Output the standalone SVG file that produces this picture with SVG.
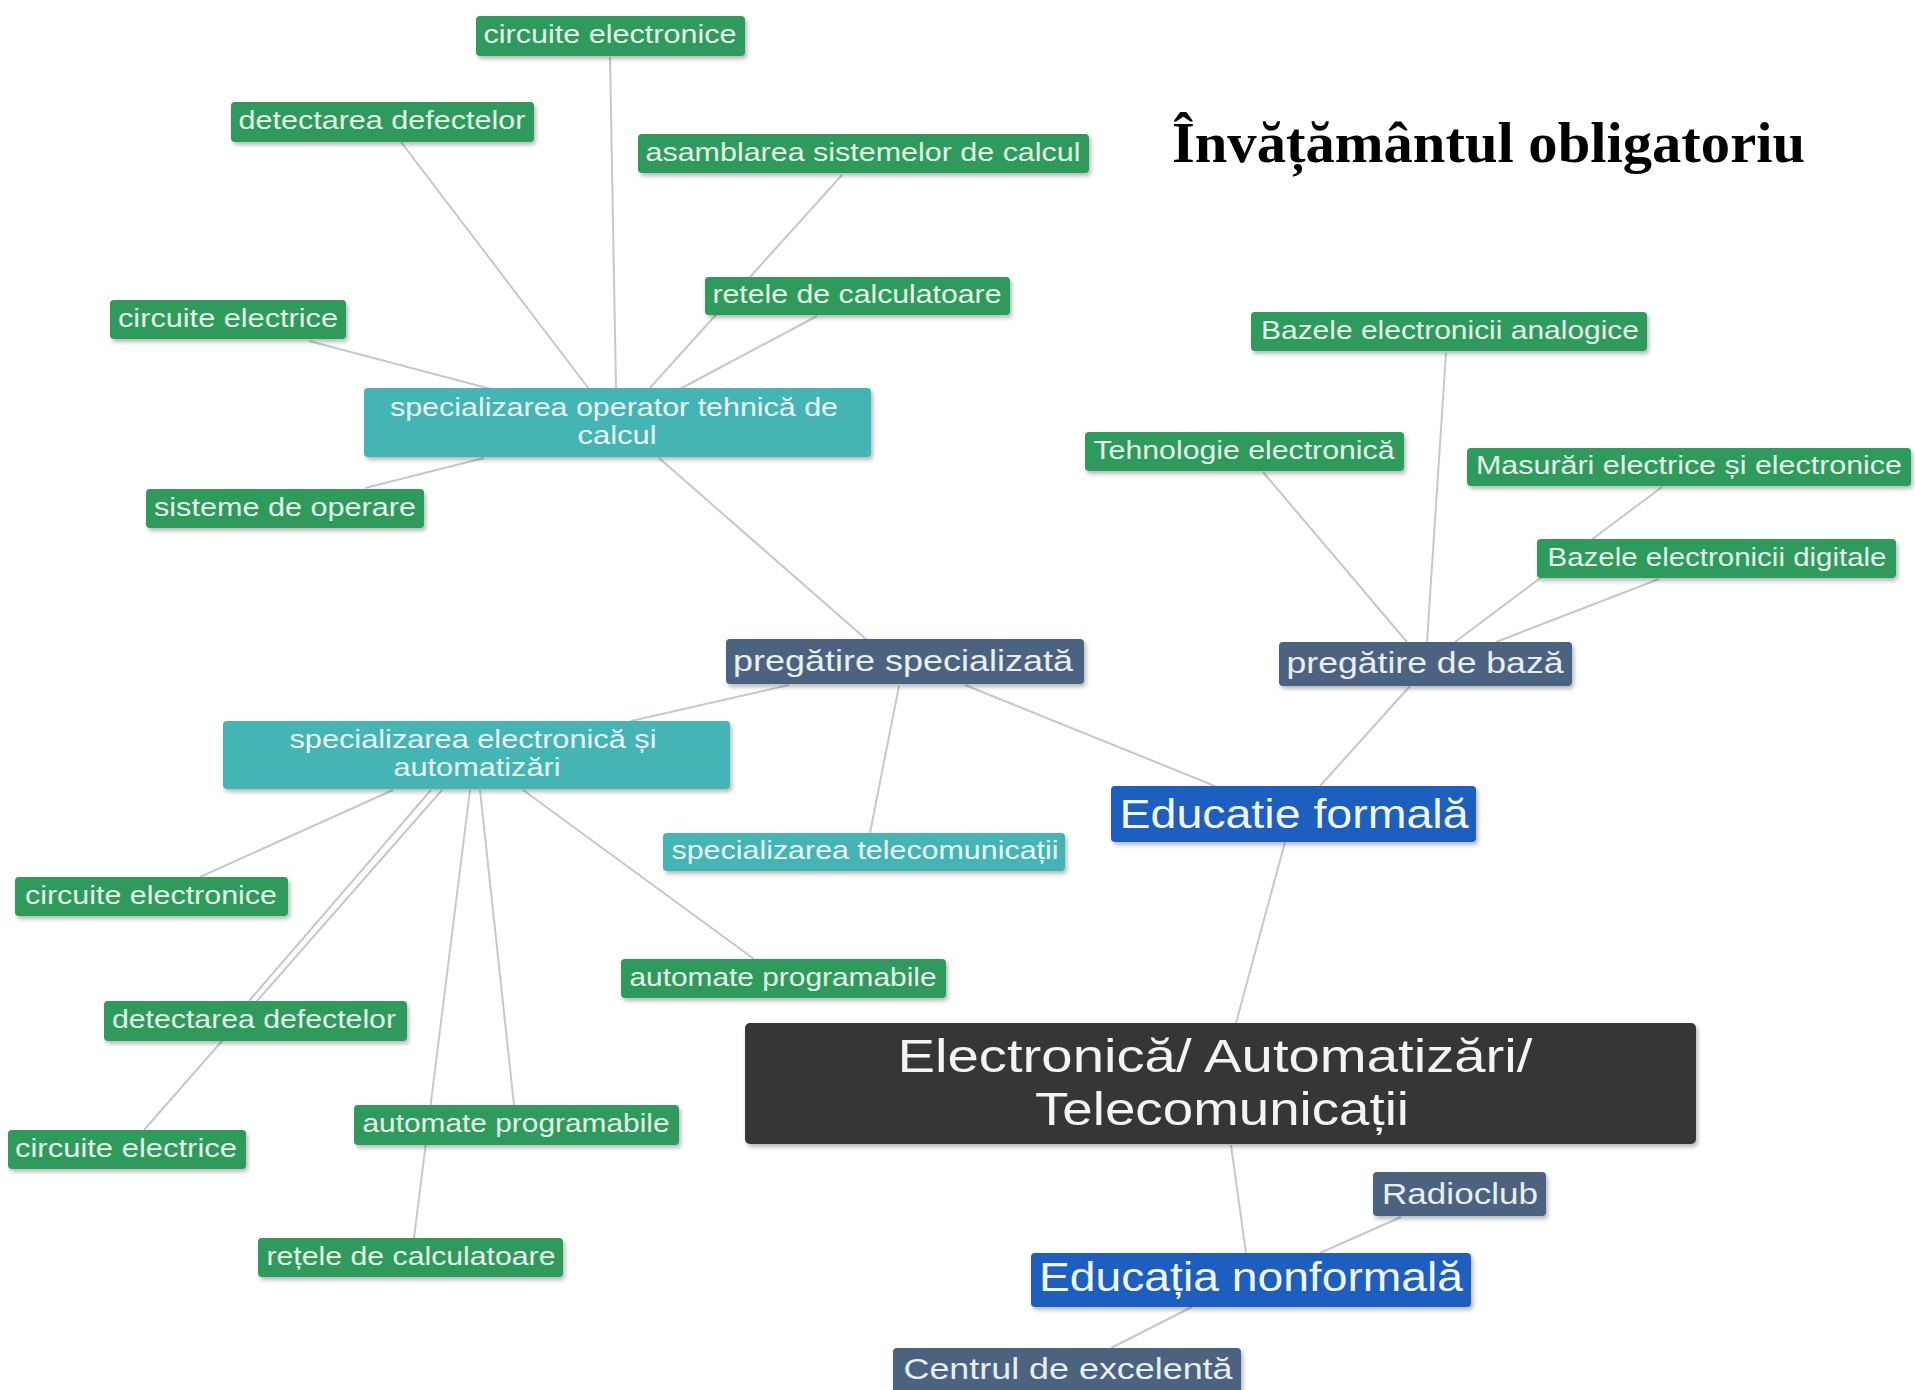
<svg xmlns="http://www.w3.org/2000/svg" width="1915" height="1390" viewBox="0 0 1915 1390">
<defs>
<filter id="sh" x="-10%" y="-20%" width="120%" height="160%">
<feDropShadow dx="2" dy="3" stdDeviation="2" flood-color="#000" flood-opacity="0.28"/>
</filter>
<style>
.n{filter:url(#sh)}
.g{fill:#2e9a5c}
.t{fill:#45b4b5}
.s{fill:#4b6480}
.b{fill:#1f5fbf}
.c{fill:#393535}
text{font-family:"Liberation Sans",Arial,sans-serif;text-anchor:middle}
.tg{font-size:25px;fill:#e4f4e8}
.tt{font-size:25px;fill:#eaf8f8}
.ts{font-size:29px;fill:#e9eef5}
.tb{font-size:40px;fill:#f2f6ff}
.tc{font-size:47px;fill:#f4f4f4}
.title{font-family:"Liberation Serif","Times New Roman",serif;font-weight:bold;font-size:58px;fill:#000;text-anchor:start}
.e{stroke:#c8c8c8;stroke-width:2;fill:none}
</style>
</defs>
<rect width="1915" height="1390" fill="#ffffff"/>
<g id="connectors">
<line class="e" x1="610" y1="57" x2="616" y2="389"/>
<line class="e" x1="401" y1="142" x2="589" y2="389"/>
<line class="e" x1="842" y1="175" x2="649" y2="389"/>
<line class="e" x1="817" y1="316" x2="680" y2="389"/>
<line class="e" x1="309" y1="341" x2="491" y2="389"/>
<line class="e" x1="365" y1="488" x2="484" y2="458"/>
<line class="e" x1="659" y1="458" x2="867" y2="640"/>
<line class="e" x1="1446" y1="353" x2="1427" y2="642"/>
<line class="e" x1="1263" y1="472" x2="1407" y2="642"/>
<line class="e" x1="1662" y1="487" x2="1455" y2="642"/>
<line class="e" x1="1659" y1="579" x2="1496" y2="642"/>
<line class="e" x1="1410" y1="686" x2="1320" y2="786"/>
<line class="e" x1="789" y1="685" x2="631" y2="721"/>
<line class="e" x1="899" y1="686" x2="870" y2="833"/>
<line class="e" x1="965" y1="685" x2="1215" y2="786"/>
<line class="e" x1="393" y1="790" x2="200" y2="877"/>
<line class="e" x1="442" y1="790" x2="144" y2="1130"/>
<line class="e" x1="431" y1="790" x2="249" y2="1001"/>
<line class="e" x1="470" y1="790" x2="414" y2="1238"/>
<line class="e" x1="480" y1="790" x2="514" y2="1105"/>
<line class="e" x1="523" y1="790" x2="754" y2="959"/>
<line class="e" x1="1285" y1="842" x2="1236" y2="1023"/>
<line class="e" x1="1231" y1="1145" x2="1246" y2="1253"/>
<line class="e" x1="1401" y1="1217" x2="1320" y2="1253"/>
<line class="e" x1="1192" y1="1307" x2="1111" y2="1348"/>
</g>
<g id="title"><text class="title" x="1172" y="162" textLength="633" lengthAdjust="spacingAndGlyphs">Învățământul obligatoriu</text></g>
<g id="n_circ_el_top"><rect class="n g" x="476" y="16" width="269" height="40" rx="4"/><text class="tg" x="610" y="43" textLength="253" lengthAdjust="spacingAndGlyphs">circuite electronice</text></g>
<g id="n_detect_top"><rect class="n g" x="231" y="102" width="303" height="40" rx="4"/><text class="tg" x="382" y="129" textLength="287" lengthAdjust="spacingAndGlyphs">detectarea defectelor</text></g>
<g id="n_asamblarea"><rect class="n g" x="638" y="134" width="451" height="39" rx="4"/><text class="tg" x="863" y="161" textLength="435" lengthAdjust="spacingAndGlyphs">asamblarea sistemelor de calcul</text></g>
<g id="n_retele_top"><rect class="n g" x="705" y="277" width="305" height="38" rx="4"/><text class="tg" x="857" y="303" textLength="289" lengthAdjust="spacingAndGlyphs">retele de calculatoare</text></g>
<g id="n_circ_electr_top"><rect class="n g" x="110" y="300" width="236" height="39" rx="4"/><text class="tg" x="228" y="327" textLength="220" lengthAdjust="spacingAndGlyphs">circuite electrice</text></g>
<g id="n_spec_op"><rect class="n t" x="364" y="388" width="507" height="69" rx="4"/><text class="tt"><tspan x="614" y="416" textLength="448" lengthAdjust="spacingAndGlyphs">specializarea operator tehnică de</tspan><tspan x="617" y="444" textLength="79" lengthAdjust="spacingAndGlyphs">calcul</tspan></text></g>
<g id="n_sisteme"><rect class="n g" x="146" y="489" width="278" height="39" rx="4"/><text class="tg" x="285" y="516" textLength="262" lengthAdjust="spacingAndGlyphs">sisteme de operare</text></g>
<g id="n_baz_analog"><rect class="n g" x="1251" y="312" width="396" height="39" rx="4"/><text class="tg" x="1450" y="339" textLength="378" lengthAdjust="spacingAndGlyphs">Bazele electronicii analogice</text></g>
<g id="n_tehnologie"><rect class="n g" x="1085" y="432" width="319" height="39" rx="4"/><text class="tg" x="1244" y="459" textLength="301" lengthAdjust="spacingAndGlyphs">Tehnologie electronică</text></g>
<g id="n_masurari"><rect class="n g" x="1467" y="448" width="444" height="38" rx="4"/><text class="tg" x="1689" y="474" textLength="426" lengthAdjust="spacingAndGlyphs">Masurări electrice și electronice</text></g>
<g id="n_baz_digit"><rect class="n g" x="1537" y="539" width="359" height="39" rx="4"/><text class="tg" x="1717" y="566" textLength="339" lengthAdjust="spacingAndGlyphs">Bazele electronicii digitale</text></g>
<g id="n_preg_baza"><rect class="n s" x="1279" y="642" width="293" height="44" rx="4"/><text class="ts" x="1425" y="673" textLength="277" lengthAdjust="spacingAndGlyphs">pregătire de bază</text></g>
<g id="n_preg_spec"><rect class="n s" x="726" y="639" width="358" height="45" rx="4"/><text class="ts" x="903" y="671" textLength="340" lengthAdjust="spacingAndGlyphs">pregătire specializată</text></g>
<g id="n_spec_electr"><rect class="n t" x="223" y="721" width="507" height="68" rx="4"/><text class="tt"><tspan x="473" y="748" textLength="367" lengthAdjust="spacingAndGlyphs">specializarea electronică și</tspan><tspan x="477" y="776" textLength="167" lengthAdjust="spacingAndGlyphs">automatizări</tspan></text></g>
<g id="n_spec_tele"><rect class="n t" x="663" y="833" width="402" height="38" rx="4"/><text class="tt" x="865" y="859" textLength="387" lengthAdjust="spacingAndGlyphs">specializarea telecomunicații</text></g>
<g id="n_circ_el_left"><rect class="n g" x="15" y="877" width="273" height="39" rx="4"/><text class="tg" x="151" y="904" textLength="252" lengthAdjust="spacingAndGlyphs">circuite electronice</text></g>
<g id="n_autom_right"><rect class="n g" x="621" y="959" width="325" height="39" rx="4"/><text class="tg" x="783" y="986" textLength="307" lengthAdjust="spacingAndGlyphs">automate programabile</text></g>
<g id="n_detect_left"><rect class="n g" x="104" y="1001" width="303" height="40" rx="4"/><text class="tg" x="254" y="1028" textLength="284" lengthAdjust="spacingAndGlyphs">detectarea defectelor</text></g>
<g id="n_circ_electr_left"><rect class="n g" x="8" y="1130" width="238" height="39" rx="4"/><text class="tg" x="126" y="1157" textLength="222" lengthAdjust="spacingAndGlyphs">circuite electrice</text></g>
<g id="n_autom_low"><rect class="n g" x="354" y="1105" width="325" height="40" rx="4"/><text class="tg" x="516" y="1132" textLength="307" lengthAdjust="spacingAndGlyphs">automate programabile</text></g>
<g id="n_retele_low"><rect class="n g" x="258" y="1238" width="305" height="39" rx="4"/><text class="tg" x="411" y="1265" textLength="289" lengthAdjust="spacingAndGlyphs">rețele de calculatoare</text></g>
<g id="n_ed_formala"><rect class="n b" x="1111" y="786" width="365" height="56" rx="4"/><text class="tb" x="1294" y="828" textLength="349" lengthAdjust="spacingAndGlyphs">Educatie formală</text></g>
<g id="n_center"><rect class="n c" x="745" y="1023" width="951" height="121" rx="5"/><text class="tc"><tspan x="1215" y="1072" textLength="635" lengthAdjust="spacingAndGlyphs">Electronică/ Automatizări/</tspan><tspan x="1222" y="1125" textLength="374" lengthAdjust="spacingAndGlyphs">Telecomunicații</tspan></text></g>
<g id="n_radioclub"><rect class="n s" x="1373" y="1172" width="173" height="44" rx="4"/><text class="ts" x="1460" y="1204" textLength="156" lengthAdjust="spacingAndGlyphs">Radioclub</text></g>
<g id="n_ed_nonformala"><rect class="n b" x="1031" y="1253" width="440" height="54" rx="4"/><text class="tb" x="1251" y="1291" textLength="424" lengthAdjust="spacingAndGlyphs">Educația nonformală</text></g>
<g id="n_centrul"><rect class="n s" x="893" y="1348" width="348" height="52" rx="4"/><text class="ts" x="1068" y="1379" textLength="329" lengthAdjust="spacingAndGlyphs">Centrul de excelentă</text></g>
</svg>
